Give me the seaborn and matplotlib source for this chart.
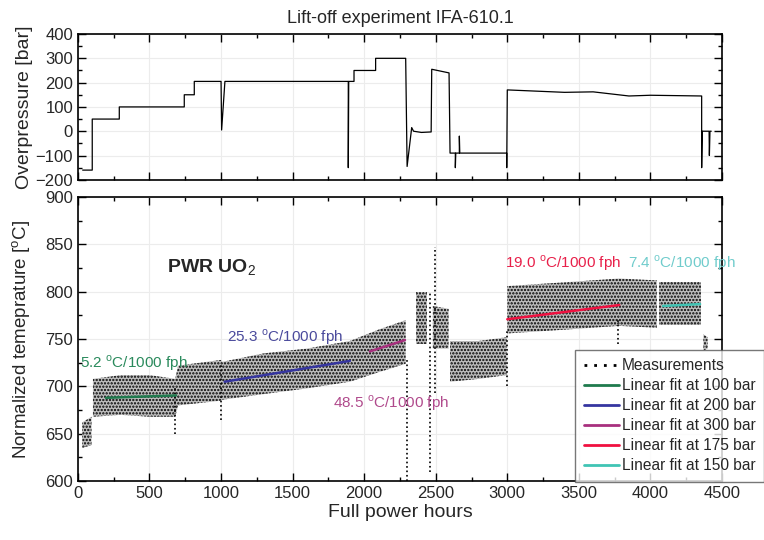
import numpy as np
import matplotlib
matplotlib.use("Agg")
import matplotlib.pyplot as plt
from matplotlib.lines import Line2D
from matplotlib.ticker import MultipleLocator
import seaborn as sns

# overpressure history (hours, bar)
press_hours = [33, 100, 100, 289, 289, 743, 743, 813, 813, 1000, 1004, 1027,
               1889, 1889, 1892, 1929, 1929, 2080, 2080, 2290, 2300, 2332,
               2345, 2400, 2468, 2472, 2593, 2600, 2637, 2637, 2640, 2665,
               2665, 2668, 2996, 2996, 3000, 3200, 3400, 3600, 3850, 4000,
               4358, 4358, 4362, 4410, 4412, 4416, 4425]
press_bar = [-160, -160, 50, 50, 100, 100, 150, 150, 205, 205, 5, 205,
             205, -150, 205, 205, 250, 250, 300, 300, -145, 15,
             0, -5, -3, 255, 240, -90, -90, -150, -90, -90,
             -20, -90, -90, -150, 170, 165, 160, 162, 145, 148,
             145, -150, 0, 0, -100, 0, 0]

# measurement band (hours, lower, upper), nan = gap
meas_hours = [30, 95, np.nan, 105, 300, 500, 680, 700, 1000, 1010, 1300, 1600,
              1900, 2100, 2290, np.nan, 2360, 2440, np.nan, 2480, 2590, np.nan,
              2600, 2800, 2995, np.nan, 3000, 3400, 3780, 4045, np.nan,
              4060, 4355, np.nan, 4370, 4400]
meas_low = [635, 638, np.nan, 668, 670, 668, 668, 680, 685, 686, 692, 698,
            705, 715, 724, np.nan, 745, 745, np.nan, 740, 740, np.nan,
            705, 708, 712, np.nan, 756, 760, 764, 762, np.nan,
            765, 765, np.nan, 738, 740]
meas_high = [662, 668, np.nan, 708, 712, 712, 708, 722, 728, 726, 735, 740,
             748, 760, 770, np.nan, 800, 800, np.nan, 785, 782, np.nan,
             748, 748, 752, np.nan, 806, 810, 814, 812, np.nan,
             810, 810, np.nan, 755, 752]

# isolated vertical streaks of measurements (hours, low, high)
streak_hours = [680, 1000, 2297, 2460, 2495, 3000, 3770]
streak_low = [650, 665, 600, 610, 693, 700, 745]
streak_high = [700, 725, 730, 800, 847, 760, 772]

# linear fits
fit_labels = ["Linear fit at 100 bar", "Linear fit at 200 bar",
              "Linear fit at 300 bar", "Linear fit at 175 bar",
              "Linear fit at 150 bar"]
fit_colors = ["#1f7a4d", "#3535a0", "#a8307e", "#f01040", "#40c4b4"]
fit_x = [[196, 685], [1025, 1900], [2040, 2285], [3000, 3782], [4088, 4347]]
fit_y = [[688, 690.5], [705, 727], [737, 749], [771, 786], [785, 787]]

# slope annotations
ann_text = ["5.2 $^{\\rm o}$C/1000 fph", "25.3 $^{\\rm o}$C/1000 fph",
            "48.5 $^{\\rm o}$C/1000 fph", "19.0 $^{\\rm o}$C/1000 fph",
            "7.4 $^{\\rm o}$C/1000 fph"]
ann_x = [14, 1039, 1783, 2984, 3843]
ann_y = [725, 752, 682, 830, 830]
ann_colors = ["#2a8a5c", "#4a4a9c", "#b04a8c", "#e8204a", "#70cccc"]

sns.set_theme(style="ticks")
plt.rcParams["font.family"] = ["Liberation Sans", "DejaVu Sans"]
plt.rcParams["mathtext.fontset"] = "custom"
plt.rcParams["mathtext.rm"] = "Liberation Sans"
plt.rcParams["hatch.linewidth"] = 1.1

fig = plt.figure(figsize=(7.64, 5.4), dpi=100)
ax1 = fig.add_axes([0.102, 0.667, 0.843, 0.270])
ax2 = fig.add_axes([0.102, 0.109, 0.843, 0.526])

# top panel
sns.lineplot(x=press_hours, y=press_bar, ax=ax1, color="black", lw=0.9,
             estimator=None, sort=False)
ax1.set_xlim(0, 4500)
ax1.set_ylim(-200, 400)
ax1.yaxis.set_major_locator(MultipleLocator(100))
ax1.yaxis.set_minor_locator(MultipleLocator(50))
ax1.set_ylabel("Overpressure [bar]", fontsize=14)
ax1.tick_params(labelbottom=False)
ax1.set_title("Lift-off experiment IFA-610.1", fontsize=13, pad=8)

# bottom panel
ax2.fill_between(meas_hours, meas_low, meas_high, facecolor="#bdbdbd",
                 edgecolor="black", hatch=".....", linewidth=0)
ax2.vlines(streak_hours, streak_low, streak_high, colors="black",
           linestyles=":", lw=1.2)
for xs, ys, c in zip(fit_x, fit_y, fit_colors):
    sns.lineplot(x=xs, y=ys, ax=ax2, color=c, lw=1.8, estimator=None)
for t, x, y, c in zip(ann_text, ann_x, ann_y, ann_colors):
    ax2.text(x, y, t, color=c, fontsize=11, va="center", ha="left")
ax2.text(622, 825, "PWR UO$_2$", fontsize=14, fontweight="bold",
         va="center", ha="left")

ax2.set_xlim(0, 4500)
ax2.set_ylim(600, 900)
ax2.yaxis.set_major_locator(MultipleLocator(50))
ax2.yaxis.set_minor_locator(MultipleLocator(25))
ax2.set_xlabel("Full power hours", fontsize=14, labelpad=2)
ax2.set_ylabel("Normalized temeprature [$^{\\rm o}$C]", fontsize=13.5)

for ax in (ax1, ax2):
    ax.xaxis.set_major_locator(MultipleLocator(500))
    ax.xaxis.set_minor_locator(MultipleLocator(250))
    ax.tick_params(which="both", direction="in", top=True, right=True,
                   labelsize=12, width=1.0, color="black")
    ax.tick_params(which="major", length=6)
    ax.tick_params(which="minor", length=3)
    ax.grid(True, which="major", color="#ececec", lw=0.8)
    ax.set_axisbelow(True)
    for s in ax.spines.values():
        s.set_linewidth(1.2)
        s.set_color("black")
    ax.yaxis.set_label_coords(-0.07, 0.5)

handles = [Line2D([], [], color="black", ls=(0, (1, 2.5)), lw=2)]
handles += [Line2D([], [], color=c, lw=2) for c in fit_colors]
labels = ["Measurements"] + fit_labels
fig.legend(handles, labels, loc="lower right", bbox_to_anchor=(1.0, 0.108),
           fontsize=11.2, frameon=True, fancybox=False, edgecolor="#555555",
           handlelength=2.3, handletextpad=0.15, labelspacing=0.32,
           borderpad=0.55, borderaxespad=0.0)

fig.savefig("out.png", dpi=100)
